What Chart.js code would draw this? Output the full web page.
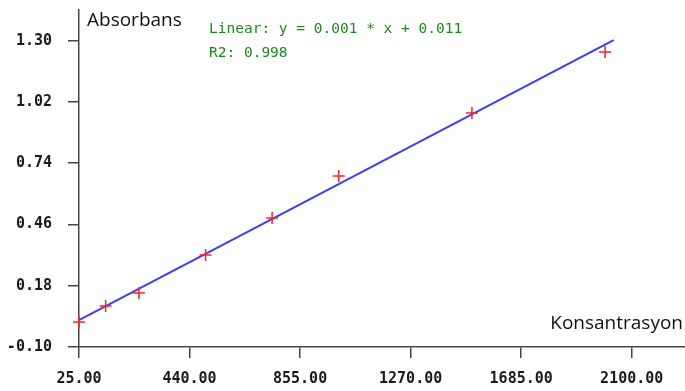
<!DOCTYPE html>
<html>
<head>
<meta charset="utf-8">
<script src="https://cdn.jsdelivr.net/npm/chart.js@4.4.1/dist/chart.umd.min.js"></script>
<style>
    html, body { margin: 0; padding: 0; background: #fff; }
</style>
</head>
<body>
<canvas id="calChart" width="685" height="391"></canvas>
<script>
// calibration points
const concentrations = [25, 125, 250, 500, 750, 1000, 1500, 2000];
const absorbances = [0.014, 0.087, 0.147, 0.320, 0.489, 0.681, 0.969, 1.248];

// end points of the fitted line
const fitX = [25, 2032];
const fitY = [0.023, 1.302];

const xTicks = [25, 440, 855, 1270, 1685, 2100];
const yTicks = [-0.10, 0.18, 0.46, 0.74, 1.02, 1.30];

const yTitle = "Absorbans";
const xTitle = "Konsantrasyon";
const fitText = ["Linear: y = 0.001 * x + 0.011", "R2: 0.998"];

const monoFont = "DejaVu Sans Mono";
const axisColor = "#444";

const textPlugin = {
    id: "chartTexts",
    afterDraw(chart) {
        const ctx = chart.ctx;
        const area = chart.chartArea;
        ctx.save();
        ctx.fillStyle = "#111";
        ctx.font = '19px "Open Sans"';
        ctx.textAlign = "left";
        ctx.textBaseline = "alphabetic";
        ctx.fillText(yTitle, area.left + 8, area.top + 16);
        ctx.textAlign = "right";
        ctx.fillText(xTitle, area.right - 2, area.bottom - 18);

        ctx.fillStyle = "#1a8c1a";
        ctx.font = "14.5px " + monoFont;
        ctx.textAlign = "left";
        fitText.forEach((line, i) => {
            ctx.fillText(line, area.left + 130, area.top + 23 + i * 24);
        });
        ctx.restore();
    }
};

const ctx = document.getElementById("calChart").getContext("2d");

new Chart(ctx, {
    type: "scatter",
    data: {
        datasets: [
            {
                label: "Standards",
                data: concentrations.map((c, i) => ({ x: c, y: absorbances[i] })),
                pointStyle: "cross",
                pointRadius: 6,
                pointHoverRadius: 6,
                pointBorderWidth: 1.5,
                borderColor: "#ff2222",
                backgroundColor: "#ff2222",
                clip: false
            },
            {
                label: "Fit",
                type: "line",
                data: fitX.map((x, i) => ({ x: x, y: fitY[i] })),
                borderColor: "#3c3cff",
                borderWidth: 2,
                pointRadius: 0,
                fill: false
            }
        ]
    },
    options: {
        responsive: false,
        animation: false,
        layout: {
            autoPadding: false,
            padding: { top: 10, right: 0, left: 0, bottom: 0 }
        },
        plugins: {
            legend: { display: false },
            tooltip: { enabled: false }
        },
        scales: {
            x: {
                type: "linear",
                min: 25,
                max: 2300,
                afterBuildTicks: scale => {
                    scale.ticks = xTicks.map(v => ({ value: v }));
                },
                afterFit: scale => {
                    scale.height = 44;
                    scale.paddingLeft = 0;
                    scale.paddingRight = 0;
                },
                grid: {
                    drawOnChartArea: false,
                    tickLength: 11,
                    color: axisColor,
                    lineWidth: 1.5
                },
                border: { color: axisColor, width: 1.5 },
                ticks: {
                    padding: 12,
                    maxRotation: 0,
                    autoSkip: false,
                    color: "#1a1a1a",
                    font: { family: monoFont, size: 15, weight: "bold" },
                    callback: v => v.toFixed(2)
                }
            },
            y: {
                type: "linear",
                min: -0.10,
                max: 1.44,
                afterBuildTicks: scale => {
                    scale.ticks = yTicks.map(v => ({ value: v }));
                },
                afterFit: scale => {
                    scale.width = 79;
                    scale.paddingTop = 0;
                    scale.paddingBottom = 0;
                },
                grid: {
                    drawOnChartArea: false,
                    tickLength: 11,
                    color: axisColor,
                    lineWidth: 1.5
                },
                border: { color: axisColor, width: 1.5 },
                ticks: {
                    padding: 16,
                    autoSkip: false,
                    color: "#1a1a1a",
                    font: { family: monoFont, size: 15, weight: "bold" },
                    callback: v => v.toFixed(2)
                }
            }
        }
    },
    plugins: [textPlugin]
});
</script>
</body>
</html>
